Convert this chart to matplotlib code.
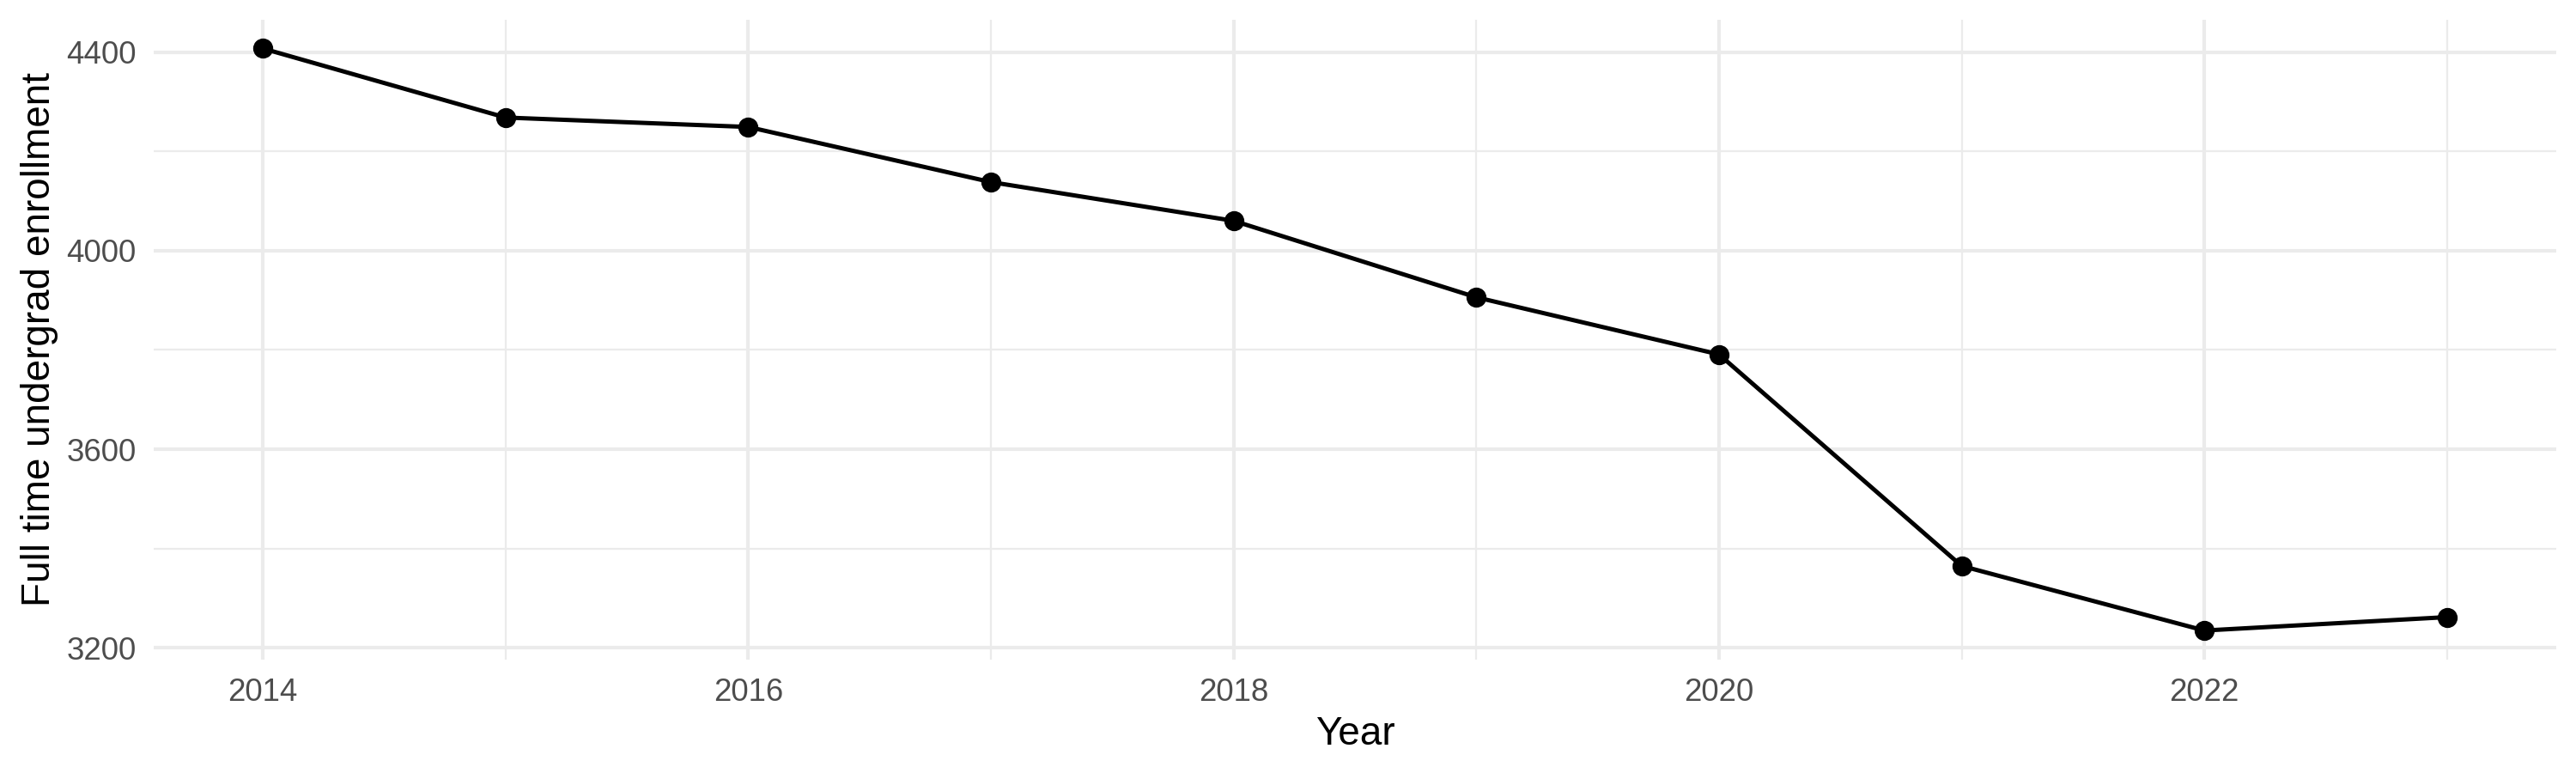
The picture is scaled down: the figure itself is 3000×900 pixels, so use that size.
import matplotlib
matplotlib.use('Agg')
import matplotlib.pyplot as plt
from matplotlib.ticker import MultipleLocator

# full time undergrad enrollment by year
anos = [2014, 2015, 2016, 2017, 2018, 2019, 2020, 2021, 2022, 2023]
matriculas = [4407, 4268, 4249, 4138, 4060, 3906, 3791, 3365, 3235, 3262]

plt.rcParams['font.family'] = ['Liberation Sans', 'DejaVu Sans']

fig = plt.figure(figsize=(10, 3), dpi=300)
ax = fig.add_axes([179/3000, 1 - 768/900, (2977 - 179)/3000, (768 - 22.6)/900])

ax.plot(anos, matriculas, '-', color='black', linewidth=1.2, zorder=3)
ax.plot(anos, matriculas, 'o', color='black', markersize=4.6, zorder=4)
ax.margins(0.05)

ax.xaxis.set_major_locator(MultipleLocator(2))
ax.xaxis.set_minor_locator(MultipleLocator(1))
ax.yaxis.set_major_locator(MultipleLocator(400))
ax.yaxis.set_minor_locator(MultipleLocator(200))

ax.grid(which='major', color='#EBEBEB', linewidth=1.0)
ax.grid(which='minor', color='#EBEBEB', linewidth=0.55)
ax.set_axisbelow(True)

for s in ax.spines.values():
    s.set_visible(False)
ax.tick_params(which='both', length=0, pad=4.95, labelsize=8.8, labelcolor='#4D4D4D')

ax.set_xlabel('Year', fontsize=11, color='black', labelpad=2.2)
ax.set_ylabel('Full time undergrad enrollment', fontsize=11, color='black', labelpad=2.2)

fig.savefig('out.png', dpi=300, facecolor='white')
